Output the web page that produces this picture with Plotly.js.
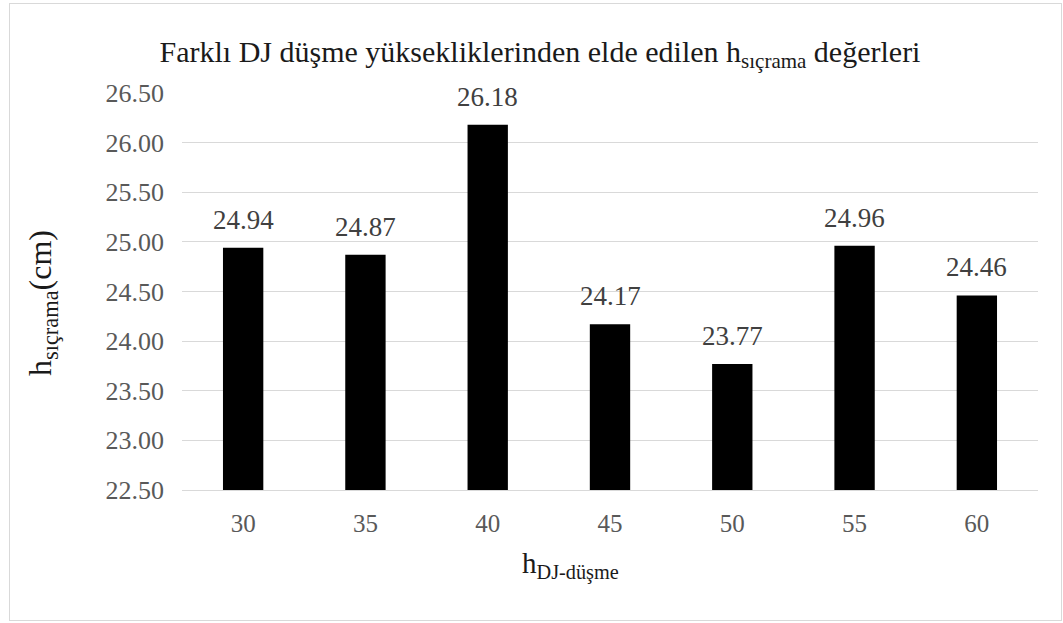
<!DOCTYPE html>
<html>
<head>
<meta charset="utf-8">
<script src="https://cdn.plot.ly/plotly-3.0.1.min.js"></script>
<style>
  html, body { margin: 0; padding: 0; background: #ffffff; }
  #wrap { position: relative; width: 1063px; height: 623px; }
  #chart { width: 1063px; height: 623px; }
  #frame {
    position: absolute; left: 9px; top: 3px; width: 1051px; height: 616px;
    border: 1px solid #d9d9d9; pointer-events: none;
  }
</style>
</head>
<body>
<div id="wrap">
  <div id="chart"></div>
  <div id="frame"></div>
</div>
<script>
// Drop heights (cm) and the jump heights measured for each
const dropHeights = ['30', '35', '40', '45', '50', '55', '60'];
const jumpHeights = [24.94, 24.87, 26.18, 24.17, 23.77, 24.96, 24.46];
const yTickValues = [22.5, 23.0, 23.5, 24.0, 24.5, 25.0, 25.5, 26.0, 26.5];
const yTickLabels = ['22.50', '23.00', '23.50', '24.00', '24.50', '25.00', '25.50', '26.00', '26.50'];

const serif = 'Liberation Serif, Times New Roman, serif';
const floor = 22.5;

// Bars rise from the axis floor, so each bar's length is value - floor
const trace = {
  type: 'bar',
  x: dropHeights,
  y: jumpHeights.map(v => v - floor),
  base: floor,
  width: 0.33,
  marker: { color: '#000000', line: { width: 0 } },
  hoverinfo: 'skip'
};

// Value labels sit a little above each bar top (x given as category index)
const valueLabels = jumpHeights.map((v, i) => ({
  x: i,
  y: v,
  xref: 'x',
  yref: 'y',
  text: v.toFixed(2),
  showarrow: false,
  yanchor: 'bottom',
  yshift: 11,
  font: { family: serif, size: 27, color: '#404040' }
}));

// Axis titles placed as annotations for finer positioning
const axisTitles = [
  {
    text: 'h<sub>DJ-düşme</sub>',
    xref: 'paper', yref: 'paper',
    x: (570 - 182) / (1063 - 182 - 25), y: -(565 - 490) / (490 - 93),
    xanchor: 'center', yanchor: 'middle',
    showarrow: false,
    font: { family: serif, size: 29, color: '#1a1a1a' }
  },
  {
    text: 'h<sub>sıçrama</sub>(cm)',
    xref: 'paper', yref: 'paper',
    x: -(182 - 42) / (1063 - 182 - 25), y: (490 - 303) / (490 - 93),
    xanchor: 'center', yanchor: 'middle',
    textangle: -90,
    showarrow: false,
    font: { family: serif, size: 32, color: '#1a1a1a' }
  }
];

const layout = {
  width: 1063,
  height: 623,
  margin: { l: 182, r: 25, t: 93, b: 133 },
  paper_bgcolor: '#ffffff',
  plot_bgcolor: '#ffffff',
  showlegend: false,
  title: {
    text: 'Farklı DJ düşme yüksekliklerinden elde edilen h<sub>sıçrama</sub> değerleri',
    font: { family: serif, size: 30, color: '#1a1a1a' },
    xref: 'container', x: 0.508, xanchor: 'center',
    yref: 'container', y: 0.918, yanchor: 'middle'
  },
  xaxis: {
    type: 'category',
    range: [-0.5, 6.5],
    tickfont: { family: serif, size: 25, color: '#595959' },
    showgrid: false,
    showline: true,
    linecolor: '#d9d9d9',
    linewidth: 1,
    ticks: '',
    ticklabelstandoff: 11
  },
  yaxis: {
    range: [22.5, 26.5],
    tickvals: yTickValues,
    ticktext: yTickLabels,
    tickfont: { family: serif, size: 26, color: '#595959' },
    showgrid: true,
    gridcolor: '#d9d9d9',
    gridwidth: 1,
    zeroline: false,
    showline: false,
    ticks: '',
    ticklabelstandoff: 17
  },
  annotations: valueLabels.concat(axisTitles)
};

Plotly.newPlot('chart', [trace], layout, { displayModeBar: false, staticPlot: true });
</script>
</body>
</html>
